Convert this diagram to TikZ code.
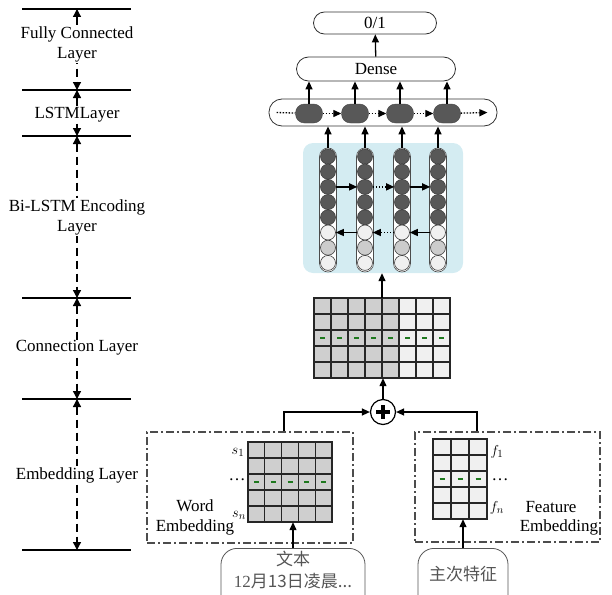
\documentclass[tikz,border=0pt]{standalone}
\usepackage{fontspec}
\setmainfont{Liberation Serif}
\newfontfamily\cjk{Noto Sans CJK SC}
\usetikzlibrary{arrows.meta}

\definecolor{cellgray}{RGB}{207,207,207}
\definecolor{celllight}{RGB}{240,240,240}
\definecolor{unitdark}{RGB}{88,88,88}
\definecolor{unitmid}{RGB}{204,204,204}
\definecolor{encblue}{RGB}{212,236,242}
\definecolor{dashgreen}{RGB}{30,120,30}
\definecolor{boxgray}{RGB}{85,85,85}

\tikzset{
  arr/.style={line width=1.3pt, -{Triangle[length=8pt,width=7pt]}},
  dotarr/.style={arr, dash pattern=on 1.5pt off 1.5pt},
  span/.style={line width=1.3pt, dash pattern=on 8pt off 5pt,
    {Triangle[length=8pt,width=8pt]}-{Triangle[length=8pt,width=8pt]}},
  layerlbl/.style={fill=white, align=center, inner sep=1pt},
  pill/.style={draw=black!80, line width=0.8pt, fill=white, inner sep=1pt},
  unit/.style={fill=unitdark, draw=unitdark!80!black, minimum width=27pt,
    minimum height=19pt, rounded corners=9pt, inner sep=0pt},
  column/.style={draw=black!70, fill=white, line width=0.6pt, minimum width=17pt,
    minimum height=124pt, rounded corners=8.5pt, inner sep=0pt},
  neuron/.style={circle, draw=black!75, line width=0.6pt, minimum size=15pt, inner sep=0pt},
  grid/.style={draw=black!85, line width=1.2pt},
  gdash/.style={draw=dashgreen, line width=1.6pt},
  embbox/.style={draw=black!70, line width=1.3pt, dash pattern=on 8pt off 3pt on 2pt off 3pt},
  srcbox/.style={draw=boxgray, line width=0.8pt, rounded corners=16pt, text=boxgray,
    align=center, inner ysep=3pt}
}

\begin{document}
\begin{tikzpicture}[x=1pt, y=-1pt, font=\fontsize{17}{20}\selectfont]
  \useasboundingbox (0,0) rectangle (612,594);
  \clip (0,0) rectangle (612,594);

  % layer scale on the left
  \foreach \y [count=\i] in {9,90,136,298,399,550}
    \draw[line width=1.2pt] (22,\y) coordinate (s\i) -- (131,\y);
  \foreach \a/\b in {1/2,2/3,3/4,4/5,5/6}
    \draw[span] ([xshift=55pt]s\a) -- ([xshift=55pt]s\b);
  \node[layerlbl] at (77,44) {Fully Connected\\Layer};
  \node[layerlbl] at (77,115) {LSTMLayer};
  \node[layerlbl] at (77,217) {Bi-LSTM Encoding\\Layer};
  \node[layerlbl] at (77,348) {Connection Layer};
  \node[layerlbl] at (77,475) {Embedding Layer};

  % output, dense and lstm
  \node[pill, minimum width=123pt, minimum height=22pt, rounded corners=11pt] (out) at (375,23) {0/1};
  \node[pill, minimum width=159pt, minimum height=24pt, rounded corners=12pt] (dense) at (376,69) {Dense};
  \node[pill, minimum width=228pt, minimum height=27pt, rounded corners=13pt] (lstm) at (383,112.5) {};
  \foreach \x [count=\i] in {309,355,400,447}
    \node[unit] (o\i) at (\x,113.5) {};
  \draw[line width=1.3pt, dash pattern=on 1.5pt off 1.5pt] ([xshift=8pt]lstm.west) -- (o1);
  \foreach \a/\b in {1/2,2/3,3/4}
    \draw[dotarr] (o\a) -- (o\b);
  \draw[dotarr] (o4) -- ([xshift=-10pt]lstm.east);
  \foreach \i in {1,...,4}
    \draw[arr] (o\i) -- (o\i |- dense.south);
  \draw[arr] (dense) -- (out);

  % bi-lstm encoder
  \node[fill=encblue, rounded corners=10pt, minimum width=160pt, minimum height=130pt] (enc) at (383,208) {};
  \foreach \x [count=\i] in {328,365,402,438} {
    \node[column] (c\i) at (\x,210) {};
    \foreach \k/\c in {1/unitdark,2/unitdark,3/unitdark,4/unitdark,5/unitdark,6/celllight,7/unitmid,8/celllight}
      \node[neuron, fill=\c] (c\i-\k) at (\x,{156.5+15.2*(\k-1)}) {};
    \draw[arr] (c\i.north) -- (c\i.north |- lstm.south);
  }
  \draw[arr] (c1-3) -- (c2-3);
  \draw[dotarr] (c2-3) -- (c3-3);
  \draw[arr] (c3-3) -- (c4-3);
  \draw[arr] (c4-6) -- (c3-6);
  \draw[dotarr] (c3-6) -- (c2-6);
  \draw[arr] (c2-6) -- (c1-6);

  % connection matrix
  \node[minimum width=136pt, minimum height=80pt, inner sep=0pt] (cat) at (382,338) {};
  \foreach \col in {0,...,7} {
    \ifnum\col<5 \def\cc{cellgray}\else\def\cc{celllight}\fi
    \foreach \row in {0,...,4}
      \filldraw[grid, fill=\cc] ({314+17*\col},{298+16*\row}) rectangle ++(17,16);
    \draw[gdash] ({320+17*\col},338) -- ++(5,0);
  }
  \draw[arr] (cat.north) -- (cat.north |- enc.south);

  \node[circle, draw, line width=1.2pt, minimum size=25pt, inner sep=0pt] (plus) at (383,412) {};
  \draw[line width=4pt] ([xshift=-7pt]plus.center) -- ([xshift=7pt]plus.center);
  \draw[line width=4pt] ([yshift=-7pt]plus.center) -- ([yshift=7pt]plus.center);
  \draw[arr] (plus.north) -- (plus.north |- cat.south);

  % word embedding
  \node[embbox, minimum width=206pt, minimum height=111pt] (wbox) at (250,487.5) {};
  \node[minimum width=84pt, minimum height=80pt, inner sep=0pt] (wmat) at (290,482) {};
  \foreach \col in {0,...,4} {
    \foreach \row in {0,...,4}
      \filldraw[grid, fill=cellgray] ({248+16.8*\col},{442+16*\row}) rectangle ++(16.8,16);
    \draw[gdash] ({254+16.8*\col},482) -- ++(5,0);
  }
  \node[font=\fontsize{15}{18}\selectfont] at (238,452) {$s_1$};
  \node at (237,480) {\dots};
  \node[font=\fontsize{15}{18}\selectfont] at (239,515) {$s_n$};
  \node[align=center] at (195,517) {Word\\Embedding};
  \draw[arr] ([xshift=34pt]wbox.north) |- (plus);

  % feature embedding
  \node[embbox, minimum width=185pt, minimum height=110pt] (fbox) at (507.5,487) {};
  \node[minimum width=54pt, minimum height=80pt, inner sep=0pt] (fmat) at (460,479) {};
  \foreach \col in {0,...,2} {
    \foreach \row in {0,...,4}
      \filldraw[grid, fill=celllight] ({433+18*\col},{439+16*\row}) rectangle ++(18,16);
    \draw[gdash] ({439.5+18*\col},479) -- ++(5,0);
  }
  \node[font=\fontsize{15}{18}\selectfont] at (497,452) {$f_1$};
  \node at (500,480) {\dots};
  \node[font=\fontsize{15}{18}\selectfont] at (497,508) {$f_n$};
  \node at (551,507) {Feature};
  \node at (559,527) {Embedding};
  \draw[arr] ([xshift=-30.5pt]fbox.north) |- (plus);

  % inputs
  \node[srcbox, anchor=north, minimum width=144pt, font=\fontsize{17}{22}\selectfont] (txt) at (293,548)
    {\cjk{文本}\\12\cjk{月}13\cjk{日凌晨}...\\~};
  \draw[arr] (txt.north) -- (txt.north |- wmat.south);
  \node[srcbox, anchor=north, minimum width=90pt, text height=29pt, text depth=30pt] (feat) at (463,548)
    {\cjk{主次特征}};
  \draw[arr] (feat.north) -- (feat.north |- fmat.south);
\end{tikzpicture}
\end{document}
